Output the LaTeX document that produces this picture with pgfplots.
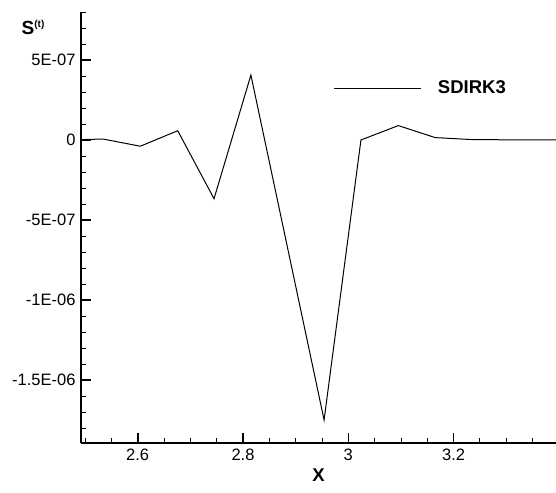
\documentclass[border=0pt]{standalone}
\usepackage{fontspec}
\setmainfont{Liberation Sans}
\usepackage{pgfplots}
\pgfplotsset{compat=1.18}

\begin{document}
\begin{tikzpicture}
\begin{axis}[
  at={(81pt,49.3pt)}, anchor=south west,
  scale only axis, width=475pt, height=430.7pt,
  xmin=2.4923, xmax=3.3945, ymin=-1.892e-6, ymax=8.0e-7,
  axis lines=left, axis line style={-, line width=2pt},
  xtick={2.6,2.8,3.0,3.2}, xticklabels={2.6,2.8,3,3.2},
  minor xtick={2.5,2.55,2.65,2.7,2.75,2.85,2.9,2.95,3.05,3.1,3.15,3.25,3.3,3.35},
  ytick={-1.5e-6,-1e-6,-5e-7,0,5e-7},
  yticklabels={-1.5E-06,-1E-06,-5E-07,0,5E-07},
  minor ytick={-1.8e-6,-1.7e-6,-1.6e-6,-1.4e-6,-1.3e-6,-1.2e-6,-1.1e-6,-9e-7,-8e-7,-7e-7,-6e-7,-4e-7,-3e-7,-2e-7,-1e-7,1e-7,2e-7,3e-7,4e-7,6e-7,7e-7,8e-7},
  scaled y ticks=false, scaled x ticks=false,
  tick align=inside,
  major tick length=10pt, minor tick length=5pt,
  every major tick/.append style={line width=1.6pt, black},
  every minor tick/.append style={line width=0.9pt, black},
  tick label style={font=\fontsize{16.5}{19}\selectfont},
  xticklabel style={yshift=-3pt},
  yticklabel style={xshift=-2pt},
  xlabel={\bfseries X},
  xlabel style={font=\fontsize{18.5}{20}\selectfont, yshift=-1pt},
  every axis y label/.style={at={(axis description cs:-0.101,0.965)}, anchor=center},
  ylabel={\fontsize{19}{20}\selectfont\bfseries S\raisebox{7pt}{\fontsize{10}{10}\selectfont (t)}},
  legend style={at={(axis description cs:0.5326,0.823)}, anchor=west,
    draw=none, fill=none, inner sep=0pt, outer sep=0pt,
    nodes={inner sep=0pt}, font=\fontsize{18.5}{20}\selectfont\bfseries},
  legend image code/.code={\draw[#1] (0pt,0pt) -- (87pt,0pt);},
  /tikz/every odd column/.append style={column sep=16pt},
]
\addplot[black, line width=1pt] coordinates {
  (2.465,0) (2.534,6e-9) (2.605,-3.9e-8) (2.676,5.8e-8) (2.745,-3.67e-7)
  (2.815,4.06e-7) (2.954,-1.75e-6) (3.024,0) (3.095,9e-8) (3.165,1.5e-8)
  (3.232,3e-9) (3.302,1e-9) (3.372,0) (3.44,0)
};
\addlegendentry{SDIRK3}
\end{axis}
\pgfresetboundingbox
\path[use as bounding box] (0,0) rectangle (556pt,492pt);
\end{tikzpicture}
\end{document}
